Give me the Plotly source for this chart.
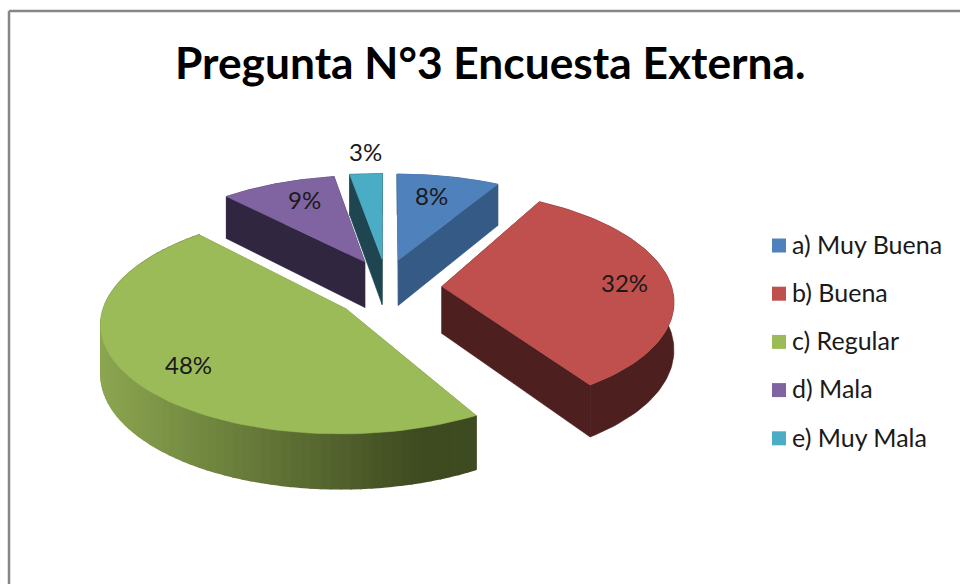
import math
import numpy as np
import plotly.graph_objects as go

categories = ["a) Muy Buena", "b) Buena", "c) Regular", "d) Mala", "e) Muy Mala"]
values = [8.2, 32.1, 47.9, 9.2, 2.6]
top_colors = ["#4f81bd", "#c0504d", "#9bbb59", "#8064a2", "#4bacc6"]
side_colors = ["#355a86", "#4d1f1e", "#6f8a40", "#31263f", "#1f4650"]
title_text = "Pregunta N°3 Encuesta Externa."
FONT = "Lato"

# per-slice look of the 3-D pie: explosion, radius, tilt, angle trims (deg), label placement
pull_x = [50, 56, 50, 50, 50]
pull_y = [68, 68, 74, 68, 68]
radius = [232, 230, 237, 232, 232]
tilt = [0.4407, 0.468, 0.4407, 0.4407, 0.4407]
trim_start = [0, 0, 5.2, 0, 0]
trim_end = [0, 0.9, 0, 0, 0]
label_r = [0.75, 0.80, 0.77, 0.76, 1.29]
label_turn = [-2, 0, 0, 2.8, 0.8]

CX, CY, K, H = 386, 288, 0.00051, 47


def project(u, v, t, drop=0.0):
    s = 1 / (1 + K * v)
    return CX + u * s, CY - t * v * s + drop * s


def lerp_hex(c0, c1, t):
    a = [int(c0[i:i + 2], 16) for i in (1, 3, 5)]
    b = [int(c1[i:i + 2], 16) for i in (1, 3, 5)]
    return "#%02x%02x%02x" % tuple(round(p + (q - p) * t) for p, q in zip(a, b))


fig = go.Figure()


def poly(xs, ys, color, lw=0.6):
    fig.add_trace(go.Scatter(
        x=list(xs), y=list(ys), mode="lines", fill="toself", fillcolor=color,
        line=dict(color=color, width=lw), hoverinfo="skip", showlegend=False))


def wall(u, v, t, color, lw=0.6):
    x0, y0 = project(u, v, t)
    x1, y1 = project(u, v, t, H)
    poly(np.r_[x0, x1[::-1], x0[0]], np.r_[y0, y1[::-1], y0[0]], color, lw)


total = sum(values)
edges = np.cumsum([0] + values) / total * 2 * math.pi
order = [4, 3, 0, 1, 2]
origin = {}
for i in order:
    a0 = edges[i] + math.radians(trim_start[i])
    a1 = edges[i + 1] + math.radians(trim_end[i])
    mid = (edges[i] + edges[i + 1]) / 2
    ou, ov = pull_x[i] * math.sin(mid), pull_y[i] * math.cos(mid)
    origin[i] = (ou, ov, mid)
    th = np.linspace(a0, a1, 80)
    u = ou + radius[i] * np.sin(th)
    v = ov + radius[i] * np.cos(th)
    t = tilt[i]
    wall(np.array([ou, u[0]]), np.array([ov, v[0]]), t, side_colors[i])
    wall(np.array([ou, u[-1]]), np.array([ov, v[-1]]), t, side_colors[i])
    if i == 2:
        for j in range(len(u) - 1):
            xm = project(u[j], v[j], t)[0]
            mix = min(1, max(0, (xm - 101) / (425 - 101)))
            wall(u[j:j + 2], v[j:j + 2], t, lerp_hex("#8ca650", "#3e4a20", mix), 1.5)
    else:
        wall(u, v, t, side_colors[i])
    x, y = project(np.r_[ou, u, ou], np.r_[ov, v, ov], t)
    poly(x, y, top_colors[i])

annotations = []
for i in range(len(values)):
    ou, ov, mid = origin[i]
    a = mid + math.radians(label_turn[i])
    rr = radius[i] * label_r[i]
    lx, ly = project(ou + rr * math.sin(a), ov + rr * math.cos(a), tilt[i])
    annotations.append(dict(x=lx, y=ly, text=f"{round(values[i])}%", showarrow=False,
                            font=dict(family=FONT, size=24, color="#1a1a1a")))

# legend
lg_y = [245.5 + 48.2 * k for k in range(len(categories))]
fig.add_trace(go.Scatter(
    x=[779] * len(categories), y=lg_y, mode="markers",
    marker=dict(symbol="square", size=14, color=top_colors),
    hoverinfo="skip", showlegend=False))
fig.add_trace(go.Scatter(
    x=[792] * len(categories), y=[y + 2 for y in lg_y], mode="text", text=categories,
    textposition="middle right",
    textfont=dict(family=FONT, size=25, color="#1a1a1a"),
    hoverinfo="skip", showlegend=False))

annotations.append(dict(x=490, y=61, text=f"<b>{title_text}</b>", showarrow=False,
                        font=dict(family=FONT, size=44.3, color="#000000")))

fig.update_layout(
    width=960, height=584, margin=dict(l=0, r=0, t=0, b=0),
    paper_bgcolor="white", plot_bgcolor="white", showlegend=False,
    xaxis=dict(range=[0, 960], visible=False, fixedrange=True),
    yaxis=dict(range=[584, 0], visible=False, fixedrange=True),
    annotations=annotations,
    shapes=[
        dict(type="line", x0=9, y0=11, x1=960, y1=11, line=dict(color="#868686", width=2.5)),
        dict(type="line", x0=9, y0=11, x1=9, y1=584, line=dict(color="#868686", width=2.5)),
    ],
)
fig.write_html("out.html", config={"displayModeBar": False},
               post_script="document.body.style.margin='0';")
